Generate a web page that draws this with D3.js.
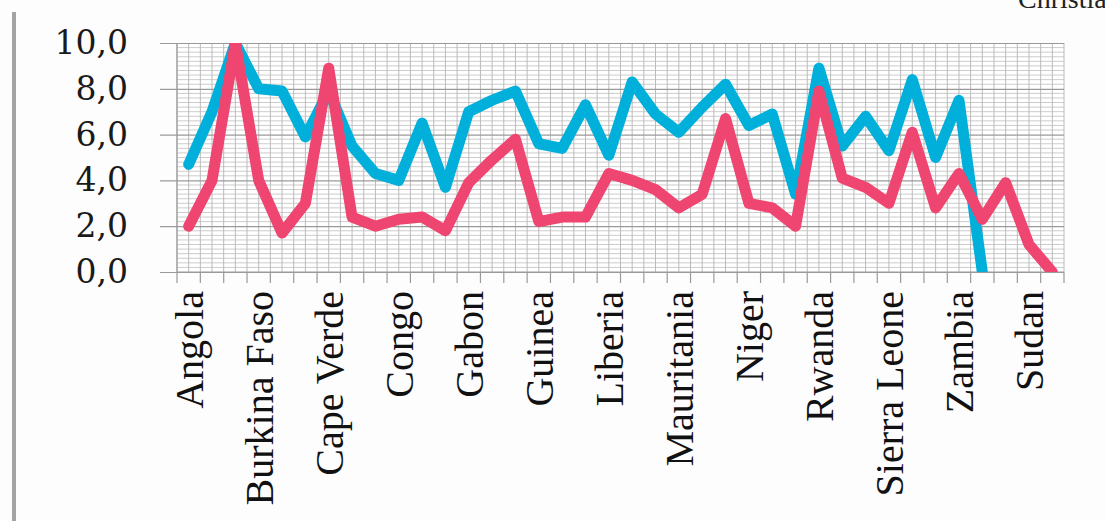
<!DOCTYPE html>
<html>
<head>
<meta charset="utf-8">
<script src="https://cdn.jsdelivr.net/npm/d3@7"></script>
<style>
  html, body { margin: 0; padding: 0; background: #fdfdfd; overflow: hidden; }
  svg { display: block; }
</style>
</head>
<body>
<script>
// Number of country slots along the x axis (only every third one is labelled)
const categoryCount = 38;

// Labels drawn on the x axis, keyed by category index
const labelIndex = [0, 3, 6, 9, 12, 15, 18, 21, 24, 27, 30, 33, 36];
const labelText = ["Angola", "Burkina Faso", "Cape Verde", "Congo", "Gabon", "Guinea",
  "Liberia", "Mauritania", "Niger", "Rwanda", "Sierra Leone", "Zambia", "Sudan"];

// Y axis ticks
const yTicks = [0, 2, 4, 6, 8, 10];

// Blue series (ends at the 35th slot)
const blueValues = [4.7, 7.0, 10.0, 8.0, 7.9, 5.9, 7.9, 5.5, 4.3, 4.0,
  6.5, 3.7, 7.0, 7.5, 7.9, 5.6, 5.4, 7.3, 5.1, 8.3,
  6.9, 6.1, 7.2, 8.2, 6.4, 6.9, 3.4, 8.9, 5.5, 6.8,
  5.3, 8.4, 5.0, 7.5, 0.0];

// Pink series
const pinkValues = [2.0, 4.0, 10.0, 4.0, 1.7, 3.0, 8.9, 2.4, 2.0, 2.3,
  2.4, 1.8, 3.9, 4.9, 5.8, 2.2, 2.4, 2.4, 4.3, 4.0,
  3.6, 2.8, 3.4, 6.7, 3.0, 2.8, 2.0, 7.9, 4.1, 3.7,
  3.0, 6.1, 2.8, 4.3, 2.3, 3.9, 1.2, 0.0];

const W = 1105, H = 521;
const plot = { left: 177, right: 1064, top: 43, bottom: 272 };

const svg = d3.select("body").append("svg")
  .attr("width", W).attr("height", H);

// Grey rule down the left edge of the page
svg.append("rect")
  .attr("x", 12).attr("y", 12).attr("width", 4).attr("height", H - 12)
  .attr("fill", "#a3a3a3");

// Running header text at the page corner
svg.append("text")
  .attr("x", 1018).attr("y", 8)
  .attr("font-family", "Liberation Serif, serif")
  .attr("font-size", 28)
  .attr("fill", "#222")
  .text("Christian");

const x = d3.scaleBand()
  .domain(d3.range(categoryCount))
  .range([plot.left, plot.right])
  .paddingInner(0).paddingOuter(0);

const y = d3.scaleLinear()
  .domain([0, 10])
  .range([plot.bottom, plot.top]);

const g = svg.append("g");

// Plot background
g.append("rect")
  .attr("x", plot.left).attr("y", plot.top)
  .attr("width", plot.right - plot.left).attr("height", plot.bottom - plot.top)
  .attr("fill", "#ffffff");

// Minor horizontal gridlines every 0.2
const minor = d3.range(0, 10.001, 0.2).filter(v => Math.abs(v / 2 - Math.round(v / 2)) > 1e-6);
g.append("g").selectAll("line").data(minor).join("line")
  .attr("x1", plot.left).attr("x2", plot.right)
  .attr("y1", d => y(d)).attr("y2", d => y(d))
  .attr("stroke", "#cccccc").attr("stroke-width", 1);

// Vertical gridlines at category boundaries and centres
const vLines = [];
for (let i = 0; i <= categoryCount; i++) {
  vLines.push(plot.left + i * x.step());
  if (i < categoryCount) vLines.push(x(i) + x.bandwidth() / 2);
}
g.append("g").selectAll("line").data(vLines).join("line")
  .attr("x1", d => d).attr("x2", d => d)
  .attr("y1", plot.top).attr("y2", plot.bottom)
  .attr("stroke", "#bbbbbb").attr("stroke-width", 1);

// Y axis with major gridlines
const yAxis = d3.axisLeft(y)
  .tickValues(yTicks)
  .tickSize(-(plot.right - plot.left))
  .tickPadding(49)
  .tickFormat(d => d3.format(".1f")(d).replace(".", ","));

const yG = g.append("g")
  .attr("transform", `translate(${plot.left},0)`)
  .call(yAxis);
yG.select(".domain").remove();
yG.selectAll(".tick line")
  .attr("x1", -17)
  .attr("stroke", "#9a9a9a").attr("stroke-width", 1.2);
yG.selectAll(".tick text")
  .attr("font-family", "DejaVu Serif, serif")
  .attr("font-size", 33)
  .attr("fill", "#1a1a1a");

// Left axis line
g.append("line")
  .attr("x1", plot.left).attr("x2", plot.left)
  .attr("y1", plot.top).attr("y2", plot.bottom)
  .attr("stroke", "#9a9a9a").attr("stroke-width", 1.2);

// X axis: ticks at category boundaries, labels on every third category
const boundaries = d3.range(categoryCount + 1).map(i => plot.left + i * x.step());
g.append("g").selectAll("line").data(boundaries).join("line")
  .attr("x1", d => d).attr("x2", d => d)
  .attr("y1", plot.bottom).attr("y2", plot.bottom + 11)
  .attr("stroke", "#9a9a9a").attr("stroke-width", 1.2);
g.append("line")
  .attr("x1", plot.left).attr("x2", plot.right)
  .attr("y1", plot.bottom).attr("y2", plot.bottom)
  .attr("stroke", "#9a9a9a").attr("stroke-width", 1.2);

const labels = labelIndex.map((idx, k) => ({ idx, text: labelText[k] }));
g.append("g").selectAll("text").data(labels).join("text")
  .attr("transform", d => `translate(${x(d.idx) + x.bandwidth() / 2 + 1},291) rotate(-90)`)
  .attr("text-anchor", "end")
  .attr("dominant-baseline", "central")
  .attr("font-family", "Liberation Serif, serif")
  .attr("font-size", 40)
  .attr("fill", "#111")
  .text(d => d.text);

// Series lines, clipped to the plot area
svg.append("clipPath").attr("id", "plotClip")
  .append("rect")
  .attr("x", plot.left).attr("y", plot.top)
  .attr("width", plot.right - plot.left).attr("height", plot.bottom - plot.top);

const line = d3.line()
  .x((d, i) => x(i) + x.bandwidth() / 2)
  .y(d => y(d));

const lines = g.append("g").attr("clip-path", "url(#plotClip)");
lines.append("path")
  .datum(blueValues)
  .attr("d", line)
  .attr("fill", "none")
  .attr("stroke", "#00b0da")
  .attr("stroke-width", 11)
  .attr("stroke-linejoin", "round")
  .attr("stroke-linecap", "round");
lines.append("path")
  .datum(pinkValues)
  .attr("d", line)
  .attr("fill", "none")
  .attr("stroke", "#ee4670")
  .attr("stroke-width", 11)
  .attr("stroke-linejoin", "round")
  .attr("stroke-linecap", "round");
</script>
</body>
</html>
